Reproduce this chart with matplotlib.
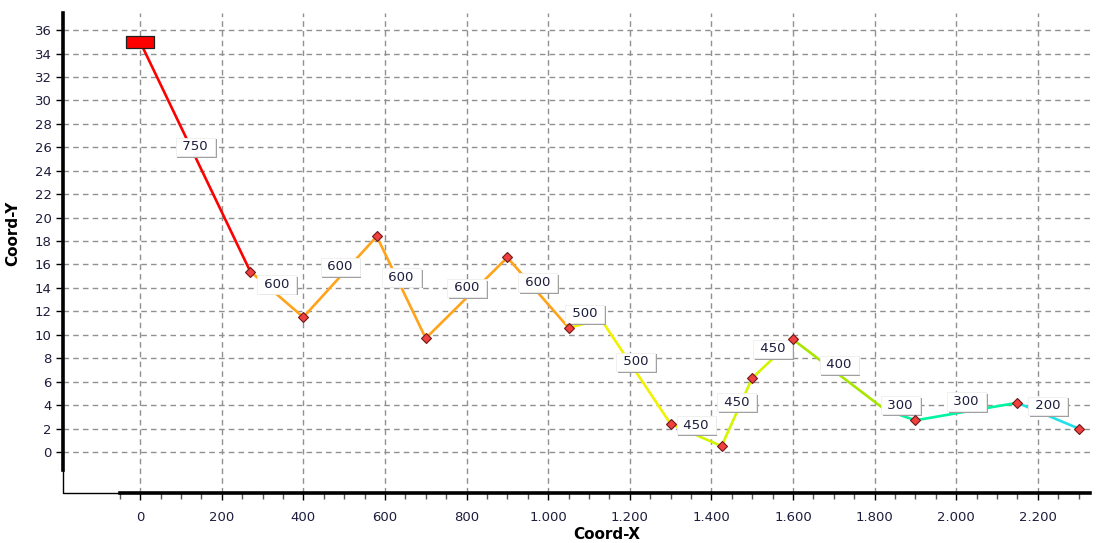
import numpy as np
import matplotlib.pyplot as plt
import matplotlib.patheffects as pe
from matplotlib.ticker import FixedLocator

# route vertices (x, y); segment i goes from node i to node i+1
node_x = [0, 270, 400, 580, 700, 900, 1050, 1130, 1300, 1425, 1500, 1600, 1826, 1900, 2150, 2300]
node_y = [35.0, 15.4, 11.5, 18.4, 9.7, 16.6, 10.6, 11.3, 2.4, 0.5, 6.3, 9.6, 3.6, 2.7, 4.2, 2.0]
marked = [0, 1, 1, 1, 1, 1, 1, 0, 1, 1, 1, 1, 0, 1, 1, 1]
seg_values = [750, 600, 600, 600, 600, 600, 500, 500, 450, 450, 450, 400, 300, 300, 200]
value_colors = {750: "#ff0000", 600: "#ffa31a", 500: "#f2f200", 450: "#d4f500",
                400: "#a8e600", 300: "#00f5a0", 200: "#22e0e8"}

x_ticks = np.arange(0, 2201, 200)
y_ticks = np.arange(0, 37, 2)

fig = plt.figure(figsize=(10.97, 5.43), dpi=100)
ax = fig.add_axes([63 / 1097, 50 / 543, 1027 / 1097, 480 / 543])
ax.set_xlim(-189, 2328)
ax.set_ylim(-3.5, 37.46)

# segments with value labels
for i, v in enumerate(seg_values):
    xs = node_x[i:i + 2]
    ys = node_y[i:i + 2]
    ax.plot(xs, ys, color=value_colors[v], lw=1.9, zorder=3, solid_capstyle="butt")
    t = ax.annotate(f" {v} ", ((xs[0] + xs[1]) / 2, (ys[0] + ys[1]) / 2),
                    xytext=(0, 2.5), textcoords="offset points",
                    ha="center", va="bottom", fontsize=9.5, color="#1c1c3c", zorder=5,
                    bbox=dict(boxstyle="square,pad=0.2", fc="white", ec="#eeeeee", lw=0.6))
    t.get_bbox_patch().set_path_effects(
        [pe.withSimplePatchShadow(offset=(1.3, -1.3), shadow_rgbFace="#a0a0a0", alpha=1.0)])

# vertex markers
mx = [x for x, m in zip(node_x, marked) if m]
my = [y for y, m in zip(node_y, marked) if m]
ax.plot(mx, my, ls="none", marker="D", ms=5, mfc="#f04040", mec="#701818", mew=0.8, zorder=6)

# start marker (rectangle)
rect = [(-1, -0.45), (1, -0.45), (1, 0.45), (-1, 0.45), (-1, -0.45)]
ax.plot(node_x[:1], node_y[:1], ls="none", marker=rect, ms=20, mfc="#ff0000",
        mec="#202020", mew=0.9, zorder=7)

# grid and ticks
ax.xaxis.set_major_locator(FixedLocator(x_ticks))
ax.xaxis.set_minor_locator(FixedLocator(np.arange(-50, 2330, 50)))
ax.yaxis.set_major_locator(FixedLocator(y_ticks))
ax.yaxis.set_minor_locator(FixedLocator(np.arange(-1.5, 37.3, 0.5)))
ax.set_xticklabels([f"{v:,}".replace(",", ".") for v in x_ticks])
ax.grid(True, which="major", ls=(0, (4, 3)), color="#909090", lw=1.0)
ax.set_axisbelow(True)
ax.tick_params(axis="x", which="major", length=5, width=1, pad=8, labelsize=9.5, labelcolor="#1c1c3c")
ax.tick_params(axis="x", which="minor", length=4, width=1, color="#555555")
ax.tick_params(axis="y", which="major", length=5, width=1, pad=3, labelsize=9.5, labelcolor="#1c1c3c")
ax.tick_params(axis="y", which="minor", length=1.5, width=0.6, color="#888888")

for s in ["top", "right"]:
    ax.spines[s].set_visible(False)
ax.spines["left"].set_linewidth(2.6)
ax.spines["left"].set_bounds(-1.5, 37.46)
ax.spines["bottom"].set_linewidth(2.6)
ax.spines["bottom"].set_bounds(-50, 2328)
# thin corner pieces of the axis frame
ax.plot([-189, -189, -50], [-1.5, -3.5, -3.5], color="black", lw=1.0, clip_on=False, zorder=8)

ax.set_xlabel("Coord-X", fontsize=11, fontweight="bold", labelpad=2)
ax.xaxis.set_label_coords((607 - 63) / 1027, -0.07)
ax.set_ylabel("Coord-Y", fontsize=11, fontweight="bold")
ax.yaxis.set_label_coords(-0.042, 0.54)

fig.savefig("out.png", dpi=100)
